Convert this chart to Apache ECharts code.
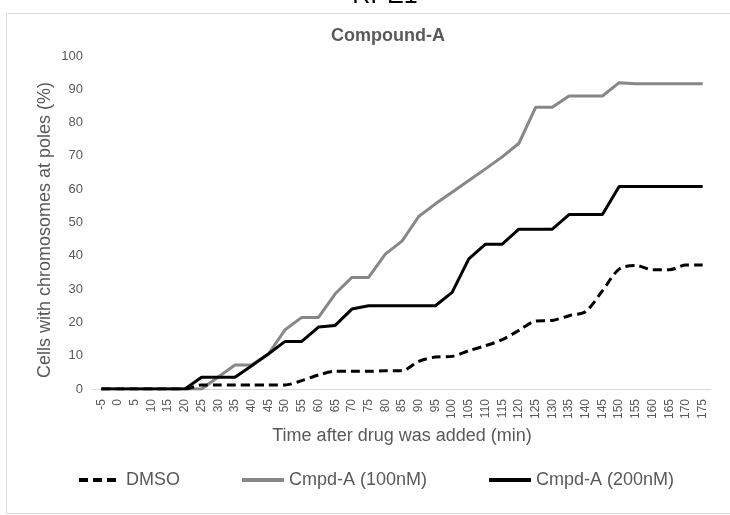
<!DOCTYPE html>
<html>
<head>
<meta charset="utf-8">
<style>
html,body{margin:0;padding:0;background:#fff;}
#chart{width:730px;height:515px;}
</style>
<script src="https://cdn.jsdelivr.net/npm/echarts@6/dist/echarts.min.js"></script>
</head>
<body>
<div id="chart"></div>
<script>
var categories = ['-5','0','5','10','15','20','25','30','35','40','45','50','55','60','65','70','75','80','85','90','95','100','105','110','115','120','125','130','135','140','145','150','155','160','165','170','175'];
var dmso = [0,0,0,0,0,0,1.2,1.2,1.2,1.2,1.2,1.2,2.5,4.2,5.3,5.3,5.3,5.5,5.5,8.3,9.6,9.8,11.5,13,14.8,17.6,20.4,20.6,22,23.3,29.5,36,37.1,35.8,35.8,37.2,37.2];
var cmpd100 = [0,0,0,0,0,0,0,3.6,7.2,7.2,10.5,17.8,21.5,21.5,28.6,33.5,33.5,40.5,44.4,51.8,55.6,59.1,62.6,66.1,69.7,73.8,84.6,84.6,88,88,88,92,91.7,91.7,91.7,91.7,91.7];
var cmpd200 = [0,0,0,0,0,0,3.5,3.5,3.5,7,10.5,14.3,14.3,18.6,19.1,24,25,25,25,25,25,29,39.1,43.5,43.5,48,48,48,52.4,52.4,52.4,60.8,60.8,60.8,60.8,60.8,60.8];
var yTicks = [0,10,20,30,40,50,60,70,80,90,100];
var seriesNames = ['DMSO','Cmpd-A (100nM)','Cmpd-A (200nM)'];

var chart = echarts.init(document.getElementById('chart'), null, {renderer:'canvas'});
var FONT = '"Liberation Sans", Arial, sans-serif';
var TXT = '#595959';
chart.setOption({
  animation: false,
  backgroundColor: '#fff',
  textStyle: {fontFamily: FONT},
  graphic: [
    {type:'rect', shape:{x:6.5, y:13.5, width:800, height:500}, style:{fill:'none', stroke:'#d9d9d9', lineWidth:1}, silent:true, z:-1},
    {type:'text', x:385, y:-4, style:{text:'RPE1', font:'25px ' + FONT, fill:'#000', align:'center', verticalAlign:'middle'}},
    {type:'text', x:388, y:36, style:{text:'Compound-A', font:'bold 18px ' + FONT, fill:TXT, align:'center', verticalAlign:'middle'}},
    {type:'text', x:45.5, y:230, rotation:Math.PI/2, style:{text:'Cells with chromosomes at poles (%)', font:'18px ' + FONT, fill:TXT, align:'center', verticalAlign:'middle'}}
  ],
  legend: {
    left: 77, top: 471, padding: 0,
    itemWidth: 42, itemHeight: 14, itemGap: 60,
    itemStyle: {opacity: 0},
    lineStyle: {width: 4},
    textStyle: {fontSize: 18, color: TXT, fontFamily: FONT},
    data: seriesNames
  },
  grid: {left: 93, right: 19, top: 56, bottom: 126, containLabel: false},
  xAxis: {
    type: 'category',
    data: categories,
    boundaryGap: true,
    name: 'Time after drug was added (min)',
    nameLocation: 'middle',
    nameGap: 38,
    nameTextStyle: {fontSize: 18, color: TXT, fontFamily: FONT},
    axisLine: {lineStyle: {color: '#d9d9d9', width: 1}},
    axisTick: {show: false},
    axisLabel: {rotate: 90, interval: 0, fontSize: 12, color: TXT, margin: 10, fontFamily: FONT}
  },
  yAxis: {
    type: 'value',
    min: yTicks[0], max: yTicks[yTicks.length-1], interval: 10,
    axisLine: {show: false},
    axisTick: {show: false},
    splitLine: {show: false},
    axisLabel: {fontSize: 13, color: TXT, margin: 10, fontFamily: FONT}
  },
  series: [
    {name: seriesNames[0], type:'line', data: dmso, smooth: 0.3, symbol:'none',
     lineStyle:{color:'#000', width:3, type:[9,5]}, itemStyle:{color:'#000'}, z:3},
    {name: seriesNames[1], type:'line', data: cmpd100, symbol:'none',
     lineStyle:{color:'#878787', width:3}, itemStyle:{color:'#878787'}, z:2},
    {name: seriesNames[2], type:'line', data: cmpd200, symbol:'none',
     lineStyle:{color:'#000', width:3}, itemStyle:{color:'#000'}, z:4}
  ]
});
</script>
</body>
</html>
